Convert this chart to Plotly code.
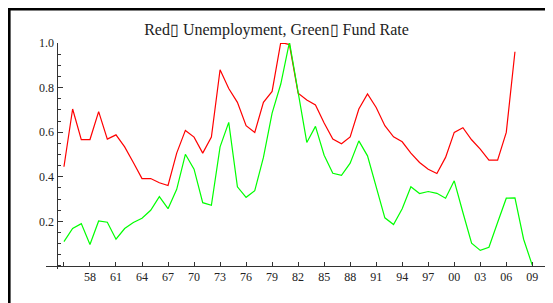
import plotly.graph_objects as go

years_unemp = list(range(1955, 2008))
unemployment = [0.445, 0.704, 0.567, 0.567, 0.692, 0.569, 0.588, 0.534, 0.464, 0.392,
                0.392, 0.373, 0.361, 0.506, 0.608, 0.578, 0.506, 0.578, 0.880, 0.796,
                0.734, 0.629, 0.599, 0.734, 0.783, 1.003, 0.993, 0.775, 0.744, 0.722,
                0.641, 0.569, 0.548, 0.579, 0.704, 0.772, 0.711, 0.629, 0.579, 0.557,
                0.506, 0.464, 0.434, 0.415, 0.487, 0.599, 0.620, 0.566, 0.524, 0.475,
                0.475, 0.599, 0.961]

years_fund = list(range(1955, 2010))
fund_rate = [0.109, 0.168, 0.190, 0.096, 0.202, 0.196, 0.120, 0.168, 0.195, 0.214,
             0.250, 0.311, 0.257, 0.344, 0.501, 0.434, 0.284, 0.272, 0.534, 0.644,
             0.355, 0.308, 0.338, 0.487, 0.686, 0.816, 1.004, 0.771, 0.554, 0.626,
             0.497, 0.416, 0.407, 0.461, 0.561, 0.494, 0.350, 0.216, 0.186, 0.257,
             0.355, 0.325, 0.334, 0.326, 0.304, 0.382, 0.240, 0.102, 0.070, 0.084,
             0.195, 0.304, 0.305, 0.120, 0.003]

x_tickvals = list(range(1955, 2010, 3))
x_ticktext = [""] + ["%02d" % (y % 100) for y in x_tickvals[1:]]
y_tickvals = [0.2, 0.4, 0.6, 0.8, 1.0]
y_ticktext = ["0.2", "0.4", "0.6", "0.8", "1.0"]

title_text = "Red\u25af Unemployment, Green\u25af Fund Rate"

fig = go.Figure()
fig.add_trace(go.Scatter(x=years_unemp, y=unemployment, mode="lines", cliponaxis=False,
                         line=dict(color="#ff0000", width=1.2), showlegend=False))
fig.add_trace(go.Scatter(x=years_fund, y=fund_rate, mode="lines", cliponaxis=False,
                         line=dict(color="#00ff00", width=1.2), showlegend=False))

font_family = "Liberation Serif"
axis_color = "#333333"

# page body has an 8px offset, so the figure is 8px smaller and margins shifted
W, H = 545, 295
fig.update_layout(
    width=W, height=H,
    margin=dict(l=38, r=7, t=34.7, b=34.4, pad=0),
    paper_bgcolor="white", plot_bgcolor="white",
    title=dict(text=title_text, x=0.461, xanchor="center", xref="paper",
               y=1 - 21 / H, yanchor="middle",
               font=dict(family=font_family, size=16, color="#222222")),
    xaxis=dict(range=[1952.93, 2010.58], anchor="free", position=0.0133,
               showgrid=False, zeroline=False, showline=True, linecolor=axis_color, linewidth=1,
               tickmode="array", tickvals=x_tickvals, ticktext=x_ticktext,
               ticks="inside", ticklen=4, tickcolor=axis_color, tickwidth=1,
               tickfont=dict(family=font_family, size=12, color="#222222")),
    yaxis=dict(range=[-0.0135, 1.0], anchor="free", position=0.021,
               showgrid=False, zeroline=False, showline=True, linecolor=axis_color, linewidth=1,
               tickmode="array", tickvals=y_tickvals, ticktext=y_ticktext,
               ticks="inside", ticklen=5, tickcolor=axis_color, tickwidth=1,
               minor=dict(dtick=0.05, tick0=0, ticks="inside", ticklen=3,
                          tickcolor=axis_color, tickwidth=1, showgrid=False),
               tickfont=dict(family=font_family, size=12, color="#222222")),
    shapes=[dict(type="rect", xref="paper", yref="paper",
                 x0=-0.0734, x1=2.0, y0=-1.0, y1=1.1495,
                 line=dict(color="black", width=2.6), layer="above")],
)

fig.write_html("out.html")
